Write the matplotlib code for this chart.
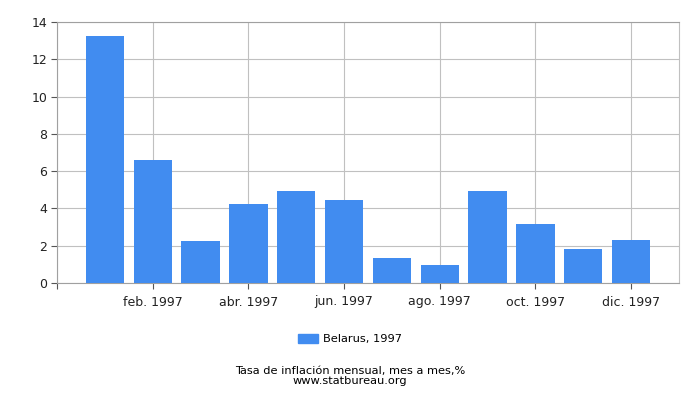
import matplotlib
matplotlib.use("Agg")
from matplotlib import pyplot as plt
from matplotlib.patches import Patch

# monthly inflation, Belarus 1997 (% month over month)
months = ["ene. 1997", "feb. 1997", "mar. 1997", "abr. 1997", "may. 1997", "jun. 1997",
          "jul. 1997", "ago. 1997", "sep. 1997", "oct. 1997", "nov. 1997", "dic. 1997"]
values = [13.27, 6.61, 2.27, 4.25, 4.95, 4.47, 1.36, 0.98, 4.95, 3.18, 1.84, 2.32]
series_label = "Belarus, 1997"
caption = "Tasa de inflación mensual, mes a mes,%\nwww.statbureau.org"
bar_color = "#418cf0"
grid_color = "#c0c0c0"

fig = plt.figure(figsize=(7, 4), dpi=100)
ax = fig.add_axes([0.0814, 0.2925, 0.8886, 0.6525])

x = list(range(len(values)))
ax.bar(x, values, width=0.8, color=bar_color, zorder=3)

ax.set_xlim(-1, 12)
ax.set_ylim(0, 14)
ax.set_yticks(range(0, 15, 2))
tick_pos = [-1] + x[1::2]
ax.set_xticks(tick_pos)
ax.set_xticklabels([""] + months[1::2])
ax.tick_params(axis="both", labelsize=9, length=4, color="#555555", colors="#222222")
ax.tick_params(axis="x", pad=5)
ax.tick_params(axis="y", pad=3)

ax.grid(True, color=grid_color, linewidth=0.8, zorder=0)
ax.spines["right"].set_color(grid_color)
for side in ["top", "left", "bottom"]:
    ax.spines[side].set_color("#a0a0a0")

fig.legend(handles=[Patch(color=bar_color, label=series_label)], loc="center",
           bbox_to_anchor=(0.5, 0.152), frameon=False, fontsize=8.2,
           handlelength=1.8, handleheight=0.8, handletextpad=0.4)

# two-line caption under the legend
fig.text(0.5, 0.06, caption, ha="center", va="center", fontsize=8.2, linespacing=0.95)

fig.savefig("out.png", dpi=100)
